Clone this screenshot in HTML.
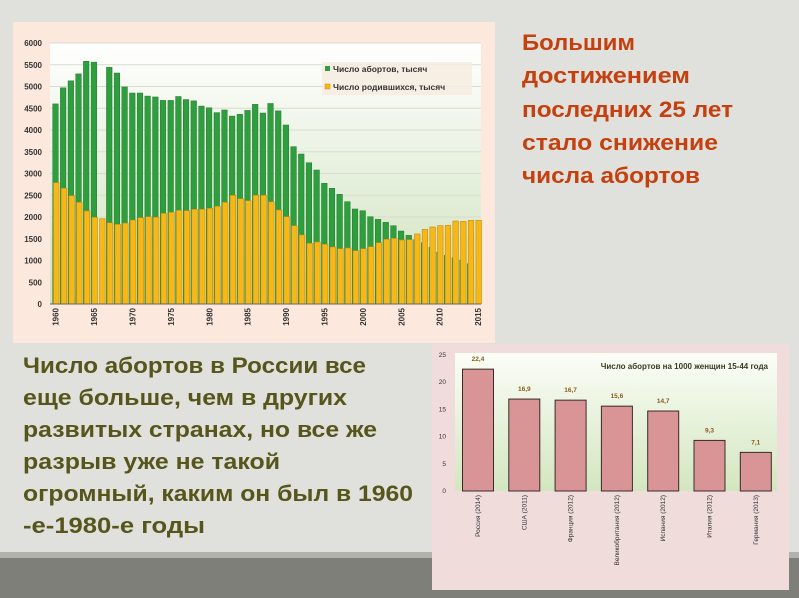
<!DOCTYPE html>
<html><head><meta charset="utf-8"><style>
html,body{margin:0;padding:0;background:#e0e0dc;}
svg{display:block;font-family:"Liberation Sans",sans-serif;}
</style></head><body>
<svg id="s" width="799" height="598" viewBox="0 0 799 598" xmlns="http://www.w3.org/2000/svg">
<defs>
<linearGradient id="pg" x1="0" y1="0" x2="0" y2="1"><stop offset="0" stop-color="#ffffff"/><stop offset="1" stop-color="#cfe2bd"/></linearGradient>
<linearGradient id="pg2" x1="0" y1="0" x2="0" y2="1"><stop offset="0" stop-color="#fbfdf7"/><stop offset="1" stop-color="#d3e6c0"/></linearGradient>
</defs>
<rect x="0" y="0" width="799" height="598" fill="#e0e0dc"/>
<rect x="0" y="552" width="799" height="6" fill="#b2b2ac"/>
<rect x="0" y="558" width="799" height="40" fill="#7f7f79"/>
<rect x="13" y="22" width="482" height="321" fill="#fce8dc"/>
<rect x="50" y="43" width="431" height="261" fill="url(#pg)"/>
<g id="topg"></g>
<rect x="432" y="344" width="357" height="246" fill="#f1dcdc"/>
<rect x="455" y="353" width="322" height="138" fill="url(#pg2)"/>
<g id="botg"></g>
<g fill="#c4400e" font-weight="bold" font-size="22">
<text x="522" y="50" textLength="113" lengthAdjust="spacingAndGlyphs">Большим</text>
<text x="522" y="83" textLength="168" lengthAdjust="spacingAndGlyphs">достижением</text>
<text x="522" y="117" textLength="211" lengthAdjust="spacingAndGlyphs">последних 25 лет</text>
<text x="522" y="150" textLength="196" lengthAdjust="spacingAndGlyphs">стало снижение</text>
<text x="522" y="183" textLength="178" lengthAdjust="spacingAndGlyphs">числа абортов</text>
</g>
<g fill="#56561c" font-weight="bold" font-size="22">
<text x="23" y="373" textLength="343" lengthAdjust="spacingAndGlyphs">Число абортов в России все</text>
<text x="23" y="405" textLength="324" lengthAdjust="spacingAndGlyphs">еще больше, чем в других</text>
<text x="23" y="437" textLength="354" lengthAdjust="spacingAndGlyphs">развитых странах, но все же</text>
<text x="23" y="469" textLength="257" lengthAdjust="spacingAndGlyphs">разрыв уже не такой</text>
<text x="23" y="501" textLength="390" lengthAdjust="spacingAndGlyphs">огромный, каким он был в 1960</text>
<text x="23" y="533" textLength="182" lengthAdjust="spacingAndGlyphs">-е-1980-е годы</text>
</g>
</svg>
<script>
const years=[];for(let y=1960;y<=2015;y++)years.push(y);
const abortions=[4600,4970,5130,5290,5580,5560,null,5440,5310,4990,4850,4850,4780,4760,4680,4680,4770,4700,4670,4550,4510,4400,4460,4320,4360,4450,4590,4390,4610,4440,4115,3617,3448,3248,3080,2774,2660,2521,2352,2184,2145,2007,1946,1877,1800,1678,1578,1479,1410,1303,1195,1119,1064,1011,927,null];
const births=[2790,2660,2490,2337,2138,1992,1960,1868,1831,1860,1930,1984,2007,1995,2084,2107,2153,2146,2178,2178,2200,2246,2337,2498,2420,2375,2500,2500,2350,2161,2007,1800,1587,1395,1426,1372,1311,1272,1288,1226,1272,1318,1410,1487,1510,1471,1480,1610,1717,1770,1800,1808,1908,1900,1923,1923];
const yTicks=[0,500,1000,1500,2000,2500,3000,3500,4000,4500,5000,5500,6000];
const xTickYears=[1960,1965,1970,1975,1980,1985,1990,1995,2000,2005,2010,2015];
const countries=["Россия (2014)","США (2011)","Франция (2012)","Великобритания (2012)","Испания (2012)","Италия (2012)","Германия (2013)"];
const rates=[22.4,16.9,16.7,15.6,14.7,9.3,7.1];
const rateLabels=["22,4","16,9","16,7","15,6","14,7","9,3","7,1"];
const rTicks=[0,5,10,15,20,25];
const NS="http://www.w3.org/2000/svg";
function mk(p,t,a){const e=document.createElementNS(NS,t);for(const k in a)e.setAttribute(k,a[k]);p.appendChild(e);return e;}
const topG=document.getElementById('topg');
const yT=v=>304-v/6000*261;
const xT=y=>55.7+(y-1960)*7.68;
yTicks.forEach(v=>{
  if(v>0){const g=mk(topG,'line',{x1:50,x2:481,y1:yT(v),y2:yT(v),stroke:'#d8dccf','stroke-width':1});
  
  }
  const t=mk(topG,'text',{x:42,y:yT(v)+3,'text-anchor':'end','font-size':8,'font-weight':'bold',fill:'#333'});
  t.textContent=v;
  
  
});
years.forEach((y,i)=>{
  const a=abortions[i];
  if(a!=null){const r=mk(topG,'rect',{x:xT(y)-3,y:yT(a),width:5.6,height:304-yT(a),fill:'#2e9e3e',stroke:'#237a2c','stroke-width':0.5});
  
  }
});
years.forEach((y,i)=>{
  const b=births[i];
  const r=mk(topG,'rect',{x:xT(y)-2.2,y:yT(b),width:5.6,height:304-yT(b),fill:'#f6b816',stroke:'#c98a10','stroke-width':0.6});
  
  
});
const ax=mk(topG,'line',{x1:50,x2:481,y1:304,y2:304,stroke:'#666','stroke-width':1});


xTickYears.forEach(y=>{
  const t=mk(topG,'text',{x:0,y:0,'text-anchor':'end','font-size':8,'font-weight':'bold',fill:'#333',transform:`translate(${xT(y)+3},308) rotate(-90)`});
  t.textContent=y;
  
  
});
const lg=mk(topG,'g',{});


mk(lg,'rect',{x:322,y:62,width:150,height:33,fill:'#f6ece0',opacity:0.85});
mk(lg,'rect',{x:325,y:66,width:5,height:5,fill:'#2e9e3e'});
let lt=mk(lg,'text',{x:333,y:72,'font-size':8.5,fill:'#333','font-weight':'bold'});lt.textContent='Число абортов, тысяч';
mk(lg,'rect',{x:325,y:84,width:5,height:5,fill:'#f6b816',stroke:'#c98a10','stroke-width':0.5});
lt=mk(lg,'text',{x:333,y:90,'font-size':8.5,fill:'#333','font-weight':'bold'});lt.textContent='Число родившихся, тысяч';
const botG=document.getElementById('botg');
const yB=v=>491-v/25*136;
const xB=i=>478+i*46.3;
rTicks.forEach(v=>{
  const t=mk(botG,'text',{x:446,y:yB(v)+2,'text-anchor':'end','font-size':6.5,fill:'#333'});
  t.textContent=v;
  
  
});
const tt=mk(botG,'text',{x:768,y:369,'text-anchor':'end','font-size':8,'font-weight':'bold',fill:'#3a3a20'});
tt.textContent='Число абортов на 1000 женщин  15-44 года';


rates.forEach((v,i)=>{
  const r=mk(botG,'rect',{x:xB(i)-15.5,y:yB(v),width:31,height:491-yB(v),fill:'#d99595',stroke:'#3a2a2a','stroke-width':1});
  
  
  const l=mk(botG,'text',{x:xB(i),y:yB(v)-8,'text-anchor':'middle','font-size':6.5,'font-weight':'bold',fill:'#8a5a1a'});
  l.textContent=rateLabels[i];
  
  
  const c=mk(botG,'text',{x:0,y:0,'text-anchor':'end','font-size':6.5,fill:'#333',transform:`translate(${xB(i)+2},495) rotate(-90)`});
  c.textContent=countries[i];
  
  
});
</script>
</body></html>
